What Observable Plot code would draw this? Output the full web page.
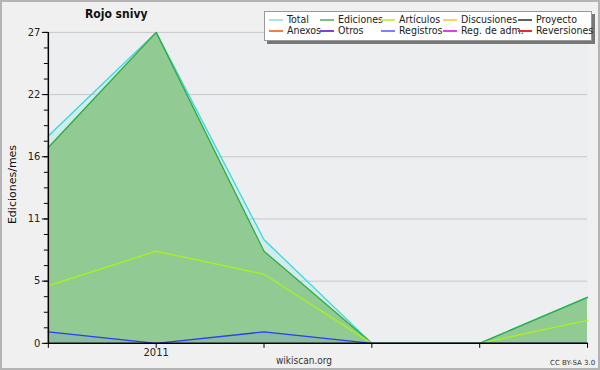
<!DOCTYPE html>
<html>
<head>
<meta charset="utf-8">
<script src="https://cdn.jsdelivr.net/npm/d3@7"></script>
<script src="https://cdn.jsdelivr.net/npm/@observablehq/plot@0.6"></script>
<style>
  html, body { margin: 0; padding: 0; background: #f0f0f0; }
  #wrap { position: relative; width: 600px; height: 370px; box-sizing: border-box; border: 2px solid #b4b4b4; overflow: hidden; font-family: "DejaVu Sans", sans-serif; background: #f0f0f0; }
  #plot { position: absolute; left: -2px; top: -2px; }
  .t { position: absolute; white-space: nowrap; color: #111; }
  #legend { position: absolute; left: 262px; top: 9px; width: 326px; height: 28px; background: #fff; border: 1px solid #999; box-shadow: 3px 3px 0 #777; }
  .sw { position: absolute; width: 14px; height: 2px; }
  .li { position: absolute; font-family: "DejaVu Sans Condensed", "DejaVu Sans", sans-serif; font-size: 10.5px; line-height: 11px; color: #222; white-space: nowrap; }
</style>
</head>
<body>
<div id="wrap">
  <div id="plot"></div>
  <div class="t" style="left:83px; top:5px; font-size:12px; font-weight:bold; font-family:'DejaVu Sans Condensed','DejaVu Sans',sans-serif;">Rojo snivy</div>
  <div class="t" style="left:-35px; top:176px; font-size:11px; transform: rotate(-90deg); width:90px; text-align:center;">Ediciones/mes</div>
  <div class="t" style="left:274px; top:353px; font-size:10px; color:#333; font-family:'DejaVu Sans Condensed','DejaVu Sans',sans-serif;">wikiscan.org</div>
  <div class="t" style="left:548px; top:357px; font-size:7px; color:#333;">CC BY-SA 3.0</div>
  <div id="legend"></div>
</div>
<script>
// Data (monthly edits), months index 0..5; index 1 = January 2011
const months = [0, 1, 2, 3, 4, 5];
const monthLabels = ["", "2011", "", "", "", ""];
const total = [18, 27, 9, 0, 0, 4];
const ediciones = [17, 27, 8, 0, 0, 4];
const articulos = [5, 8, 6, 0, 0, 2];
const registros = [1, 0, 1, 0, 0, 0];

const legendNames = ["Total", "Ediciones", "Artículos", "Discusiones", "Proyecto", "Anexos", "Otros", "Registros", "Reg. de adm.", "Reversiones"];
const legendColors = ["#a8e4e4", "#80c080", "#c8f060", "#ffd060", "#606060", "#f08040", "#8040e0", "#8080ff", "#e040e0", "#e03030"];

const yMax = 27;
const majorTicks = d3.range(0, 6).map(i => yMax * i / 5);
const minorTicks = d3.range(0, 21).map(i => yMax * i / 20);

const rows = months.map((m, i) => ({m, total: total[i], ediciones: ediciones[i], articulos: articulos[i], registros: registros[i]}));

const chart = Plot.plot({
  width: 600,
  height: 370,
  marginLeft: 48,
  marginRight: 11,
  marginTop: 32,
  marginBottom: 26,
  style: {background: "transparent", fontFamily: "DejaVu Sans, sans-serif", fontSize: "10px", color: "#222"},
  x: {domain: [0, 5], axis: null},
  y: {domain: [0, yMax], axis: null},
  marks: [
    Plot.frame({fill: "#eceef0", stroke: null}),
    Plot.gridY(majorTicks.slice(1), {stroke: "#c8c8c8", strokeOpacity: 1}),
    Plot.areaY(rows, {x: "m", y: "total", fill: "#7fe8e8", fillOpacity: 0.25}),
    Plot.areaY(rows, {x: "m", y: "ediciones", fill: "#92ca94"}),
    Plot.areaY(rows, {x: "m", y: "registros", fill: "#4060ff", fillOpacity: 0.12}),
    Plot.lineY(rows, {x: "m", y: "total", stroke: "#38d8d8", strokeWidth: 1.3}),
    Plot.lineY(rows, {x: "m", y: "ediciones", stroke: "#2eae3e", strokeWidth: 1.3}),
    Plot.lineY(rows, {x: "m", y: "articulos", stroke: "#a8f020", strokeWidth: 1.4}),
    Plot.lineY(rows, {x: "m", y: "registros", stroke: "#2f3cf0", strokeWidth: 1.4}),
    Plot.axisY({ticks: majorTicks, tickFormat: d => Math.round(d), tickSize: 6, tickPadding: 2, stroke: "#000", fontSize: 10, label: null}),
    Plot.axisY({ticks: minorTicks, text: null, tickSize: 4, stroke: "#000", label: null}),
    Plot.axisX({ticks: months, tickFormat: i => monthLabels[i], tickSize: 5, tickPadding: 1, stroke: "#000", fontSize: 10, label: null}),
    Plot.ruleY([0], {stroke: "#000", strokeWidth: 1.5}),
    Plot.ruleX([0], {stroke: "#000", strokeWidth: 1.5})
  ]
});
document.getElementById("plot").appendChild(chart);

const legend = document.getElementById("legend");
const colX = [4, 55, 116, 178, 253];
legendNames.forEach((name, i) => {
  const col = i % 5, row = Math.floor(i / 5);
  const s = document.createElement("div");
  s.className = "sw";
  s.style.left = colX[col] + "px";
  s.style.top = (7 + row * 11) + "px";
  s.style.background = legendColors[i];
  legend.appendChild(s);
  const d = document.createElement("div");
  d.className = "li";
  d.style.left = (colX[col] + 18) + "px";
  d.style.top = (2 + row * 11) + "px";
  d.textContent = name;
  legend.appendChild(d);
});
</script>
</body>
</html>
